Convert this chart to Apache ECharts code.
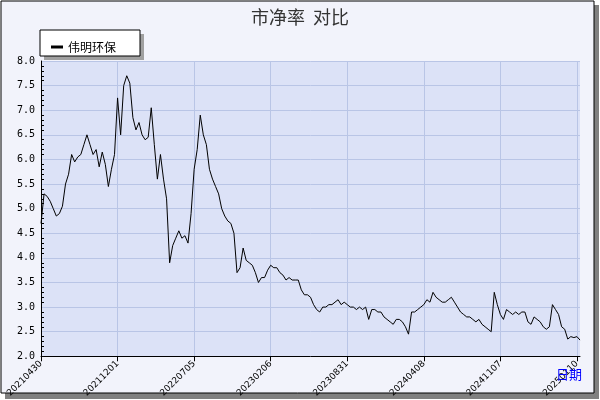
<!DOCTYPE html>
<html><head><meta charset="utf-8">
<script src="https://cdn.jsdelivr.net/npm/echarts@6/dist/echarts.min.js"></script>
<style>html,body{margin:0;padding:0;background:#fff}#c{width:600px;height:400px}</style>
</head><body><div id="c"></div>
<script>
const seriesName = '伟明环保';
const tickLabels = ['20210430','20211201','20220705','20230206','20230831','20240408','20241107','20250110'];
const yTicks = ['2.0','2.5','3.0','3.5','4.0','4.5','5.0','5.5','6.0','6.5','7.0','7.5','8.0'];
const values = [
4.7,5.3,5.25,5.15,5.0,4.85,4.9,5.05,5.5,5.7,
6.1,5.95,6.05,6.1,6.3,6.5,6.3,6.1,6.2,5.85,
6.15,5.9,5.45,5.8,6.1,7.25,6.5,7.5,7.7,7.55,
6.85,6.6,6.75,6.5,6.4,6.45,7.05,6.3,5.6,6.1,
5.6,5.2,3.9,4.25,4.4,4.55,4.4,4.45,4.3,4.9,
5.8,6.2,6.9,6.5,6.3,5.8,5.6,5.45,5.3,5.0,
4.85,4.75,4.7,4.5,3.7,3.8,4.2,3.95,3.9,3.85,
3.7,3.5,3.6,3.6,3.75,3.85,3.8,3.8,3.7,3.65,
3.55,3.6,3.55,3.55,3.55,3.35,3.25,3.25,3.2,3.05,
2.95,2.9,3.0,3.0,3.05,3.05,3.1,3.15,3.05,3.1,
3.05,3.0,3.0,2.95,3.0,2.95,3.0,2.75,2.95,2.95,
2.9,2.9,2.8,2.75,2.7,2.65,2.75,2.75,2.7,2.6,
2.45,2.9,2.9,2.95,3.0,3.05,3.15,3.1,3.3,3.2,
3.15,3.1,3.1,3.15,3.2,3.1,3.0,2.9,2.85,2.8,
2.8,2.75,2.7,2.75,2.65,2.6,2.55,2.5,3.3,3.05,
2.85,2.75,2.95,2.9,2.85,2.9,2.85,2.9,2.9,2.7,
2.65,2.8,2.75,2.7,2.6,2.55,2.6,3.05,2.95,2.85,
2.6,2.55,2.35,2.4,2.38,2.4,2.33];
const step = 25;
const categories = values.map((v,i)=> i%step===0 ? (tickLabels[i/step]||'') : '');
const chart = echarts.init(document.getElementById('c'));
chart.setOption({
  backgroundColor:'#ffffff',
  animation:false,
  graphic:[
    {type:'rect',shape:{x:5,y:5,width:594,height:394},style:{fill:'#808080'},z:-10},
    {type:'rect',shape:{x:1,y:1,width:593,height:392},style:{fill:'#f2f3fb',stroke:'#000',lineWidth:1},z:-9},
    {type:'rect',shape:{x:44,y:34,width:100,height:26},style:{fill:'#a0a0a0'},z:5},
    {type:'rect',shape:{x:40,y:30,width:100,height:26},style:{fill:'#fff',stroke:'#000',lineWidth:1},z:6},
    {type:'text',left:556,top:368,style:{text:'日期',fill:'#0000ff',font:'13px "Noto Sans CJK SC"'},z:10}
  ],
  title:{text:'市净率  对比',left:'center',top:3,textStyle:{fontSize:18,fontWeight:'normal',color:'#333',fontFamily:'"Noto Sans CJK SC"'}},
  legend:{left:46,top:36,itemWidth:12,itemHeight:3,icon:'rect',itemGap:4,z:10,
    textStyle:{fontSize:12,color:'#000',fontFamily:'"Noto Sans CJK SC"'},data:[seriesName]},
  grid:{left:41,right:20,top:61,bottom:42,show:true,backgroundColor:'#dce2f7',borderWidth:0},
  xAxis:{type:'category',data:categories,boundaryGap:false,
    axisLine:{lineStyle:{color:'#000'}},
    axisTick:{interval:(i)=>i%step===0,length:5,inside:false,lineStyle:{color:'#000'}},
    axisLabel:{interval:(i)=>i%step===0,rotate:45,fontSize:9,color:'#000',margin:6,fontFamily:'DejaVu Sans'},
    splitLine:{show:true,interval:(i)=>i%step===0,lineStyle:{color:'#b9c5e6'}}},
  yAxis:{type:'value',min:2,max:8,interval:0.5,
    axisLine:{show:true,lineStyle:{color:'#000'}},
    axisTick:{inside:true,length:6,lineStyle:{color:'#000'}},
    minorTick:{show:true,splitNumber:5,length:3,lineStyle:{color:'#000'}},
    axisLabel:{formatter:(v)=>v.toFixed(1),fontSize:10,color:'#000',fontFamily:'DejaVu Sans Mono',margin:6},
    splitLine:{show:true,lineStyle:{color:'#b9c5e6'}}},
  series:[{name:seriesName,type:'line',data:values,showSymbol:false,
    lineStyle:{color:'#000',width:1},itemStyle:{color:'#000'}}]
});
</script></body></html>
